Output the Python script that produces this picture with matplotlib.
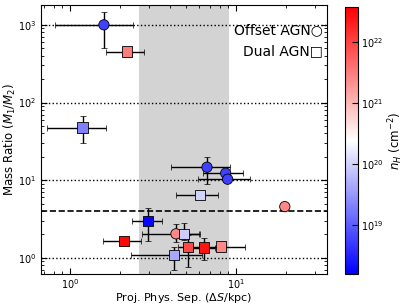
import matplotlib
matplotlib.use("Agg")
import matplotlib.pyplot as plt
import numpy as np
from matplotlib.colors import LogNorm
from matplotlib.ticker import NullLocator

# Offset AGN (circles)
off_sep = [1.60, 6.69, 8.67, 8.91, 19.7, 4.35]
off_sep_lo = [0.81, 4.06, 6.33, 5.93, 19.0, 2.70]
off_sep_hi = [2.39, 9.20, 11.1, 12.1, 20.4, 6.07]
off_ratio = [1000, 14.7, 12.3, 10.3, 4.57, 2.04]
off_ratio_lo = [509, 8.96, 11.8, 9.9, 4.25, 1.60]
off_ratio_hi = [1479, 20.1, 12.8, 10.7, 4.90, 2.74]
off_nh = [18.75, 18.75, 18.75, 18.75, 21.4, 21.4]

# Dual AGN (squares)
dual_sep = [2.21, 1.19, 6.07, 2.96, 2.12, 4.86, 4.23, 5.16, 6.42, 8.12]
dual_sep_lo = [1.64, 0.73, 4.35, 2.37, 1.59, 4.10, 2.32, 4.50, 5.50, 6.00]
dual_sep_hi = [2.80, 1.64, 7.82, 3.57, 2.67, 6.00, 6.20, 6.00, 7.50, 11.3]
dual_ratio = [452, 47.5, 6.47, 3.0, 1.65, 2.04, 1.09, 1.37, 1.36, 1.40]
dual_ratio_lo = [410, 29.9, 5.8, 1.65, 1.50, 1.70, 0.69, 0.77, 0.94, 1.26]
dual_ratio_hi = [500, 67.2, 7.2, 4.36, 1.80, 2.80, 1.40, 1.98, 1.81, 1.56]
dual_nh = [21.5, 19.3, 20.0, 18.25, 22.5, 19.95, 19.65, 21.95, 22.4, 21.4]

nh_min, nh_max = 10**18.2, 10**22.57

fig = plt.figure(figsize=(4.07, 3.05), dpi=100)
ax = fig.add_axes([0.1007, 0.1016, 0.7023, 0.882])
cax = fig.add_axes([0.848, 0.1016, 0.032, 0.875])

norm = LogNorm(vmin=nh_min, vmax=nh_max)
cmap = plt.get_cmap("bwr")

ax.axvspan(2.6, 9.1, color="lightgray", zorder=0, lw=0)
ax.axhline(4, color="k", ls="--", lw=1.2, zorder=1)


def draw(sep, lo, hi, ratio, rlo, rhi, nh, marker):
    sep = np.array(sep)
    ratio = np.array(ratio)
    xerr = [sep - np.array(lo), np.array(hi) - sep]
    yerr = [ratio - np.array(rlo), np.array(rhi) - ratio]
    ax.errorbar(sep, ratio, xerr=xerr, yerr=yerr, fmt="none", ecolor="k",
                elinewidth=1, capsize=2, capthick=0.5, zorder=2)
    ax.scatter(sep, ratio, c=10**np.array(nh), cmap=cmap, norm=norm,
               marker=marker, s=55, edgecolors="k", linewidths=0.6, zorder=3)


draw(off_sep, off_sep_lo, off_sep_hi, off_ratio, off_ratio_lo, off_ratio_hi, off_nh, "o")
draw(dual_sep, dual_sep_lo, dual_sep_hi, dual_ratio, dual_ratio_lo, dual_ratio_hi, dual_nh, "s")

ax.set_xscale("log")
ax.set_yscale("log")
ax.set_xlim(0.668, 35.3)
ax.set_ylim(0.62, 1800)
ax.yaxis.grid(True, which="major", ls=":", color="k", lw=1)
ax.set_axisbelow(False)
ax.tick_params(which="both", direction="in", top=True, right=True, labelsize=7)
ax.tick_params(which="major", length=4)
ax.tick_params(which="minor", length=2)
ax.tick_params(axis="x", pad=2)

ax.set_xlabel(r"Proj. Phys. Sep. ($\Delta S$/kpc)", fontsize=8, labelpad=0)
ax.set_ylabel(r"Mass Ratio ($M_1/M_2$)", fontsize=8.5, labelpad=0)

ax.text(0.985, 0.905, "Offset AGN\u25cb", transform=ax.transAxes, ha="right",
        va="center", fontsize=10)
ax.text(0.985, 0.828, "Dual AGN\u25a1", transform=ax.transAxes, ha="right",
        va="center", fontsize=10)

sm = plt.cm.ScalarMappable(norm=norm, cmap=cmap)
cb = fig.colorbar(sm, cax=cax)
cb.set_ticks([1e19, 1e20, 1e21, 1e22])
cax.yaxis.set_minor_locator(NullLocator())
cax.tick_params(direction="in", labelsize=7, length=4, pad=2)
cb.set_label(r"$n_H$ (cm$^{-2}$)", fontsize=8.5, labelpad=2)

fig.savefig("out.png", dpi=100)
